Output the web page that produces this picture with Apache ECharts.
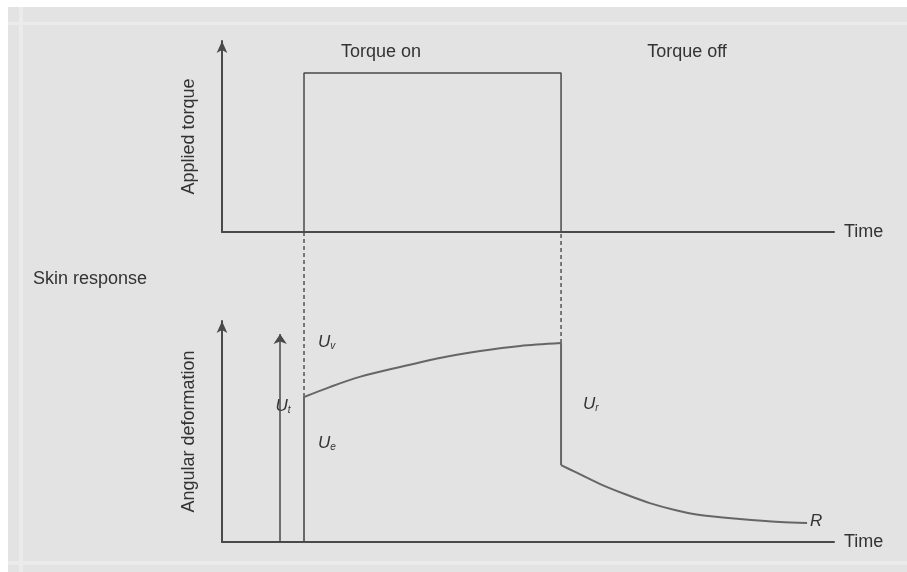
<!DOCTYPE html>
<html>
<head>
<meta charset="utf-8">
<script src="https://cdn.jsdelivr.net/npm/echarts@6/dist/echarts.min.js"></script>
<style>
  html, body { margin: 0; padding: 0; background: #fff; }
  #chart { width: 907px; height: 572px; }
</style>
</head>
<body>
<div id="chart"></div>
<script>
// time axis runs 0..100 in both panels, values 0..100
const tOn = 13.4;
const tOff = 55.4;
const tArrow = 9.5;

// applied torque (top panel)
const torqueTime = [tOn, tOn, tOff, tOff];
const torqueLevel = [0, 83.2, 83.2, 0];

// skin response while torque is on (creep)
const riseTime = [13.4, 17.6, 22.5, 29.1, 35.6, 42.2, 48.7, 55.4];
const riseValue = [65.6, 70.1, 74.7, 79.2, 83.3, 86.4, 88.7, 90.0];

// skin response after torque is removed (recovery)
const decayTime = [55.4, 57.7, 61.8, 65.8, 69.9, 74.0, 78.1, 84.6, 91.2, 95.6];
const decayValue = [34.8, 31.7, 26.2, 21.7, 17.6, 14.5, 12.2, 10.4, 9.0, 8.6];

// U_t arrow height and top of dashed guides (lower panel units)
const arrowTop = 94.1;
const dashTop = 140.3;

const lineColor = '#4a4a4a';
const curveColor = '#666';
const textColor = '#333';
const bgGray = '#e3e3e3';
const font = '"Liberation Sans", Arial, sans-serif';

function zip(xs, ys) {
  let out = [];
  for (let i = 0; i < xs.length; i++) {
    out.push([xs[i], ys[i]]);
  }
  return out;
}

function subLabel(sub) {
  return '{u|U}{s|' + sub + '}';
}

const richU = {
  u: { fontSize: 17, fontStyle: 'italic', fontFamily: font, color: textColor },
  s: { fontSize: 10, fontStyle: 'italic', fontFamily: font, color: textColor, padding: [9, 0, 0, 0] }
};

function xAxisDef(idx) {
  return {
    type: 'value', gridIndex: idx, min: 0, max: 100,
    name: 'Time', nameLocation: 'end', nameGap: 10,
    nameTextStyle: { color: textColor, fontSize: 18, fontFamily: font },
    axisLine: { lineStyle: { color: lineColor, width: 2 } },
    axisTick: { show: false }, axisLabel: { show: false }, splitLine: { show: false }
  };
}

function yAxisDef(idx, name) {
  return {
    type: 'value', gridIndex: idx, min: 0, max: 100,
    name: name, nameLocation: 'middle', nameGap: 24, nameRotate: 90,
    nameTextStyle: { color: textColor, fontSize: 18, fontFamily: font },
    axisLine: {
      show: true, onZero: false,
      symbol: ['none', 'arrow'], symbolSize: [8, 12],
      lineStyle: { color: lineColor, width: 2 }
    },
    axisTick: { show: false }, axisLabel: { show: false }, splitLine: { show: false }
  };
}

function plainLine(data, color, width, extra) {
  return Object.assign({
    type: 'line', xAxisIndex: 1, yAxisIndex: 1,
    data: data, symbol: 'none', silent: true, animation: false,
    lineStyle: { color: color, width: width }
  }, extra || {});
}

function annotation(x, y, text, align, extra) {
  return {
    type: 'text', x: x, y: y, silent: true,
    style: Object.assign({
      text: text, fill: textColor, font: '18px ' + font,
      align: align || 'left', verticalAlign: 'middle'
    }, extra || {})
  };
}

const dashStyle = { color: lineColor, width: 1.4, type: [4, 3] };

const chart = echarts.init(document.getElementById('chart'));

const option = {
  backgroundColor: '#fff',
  animation: false,
  grid: [
    { left: 222, right: 73, top: 41, bottom: 340, outerBoundsMode: 'none' },
    { left: 222, right: 73, top: 321, bottom: 30, outerBoundsMode: 'none' }
  ],
  xAxis: [xAxisDef(0), xAxisDef(1)],
  yAxis: [yAxisDef(0, 'Applied torque'), yAxisDef(1, 'Angular deformation')],
  graphic: [
    { type: 'rect', z: -10, silent: true, shape: { x: 8, y: 7, width: 899, height: 565 }, style: { fill: bgGray } },
    { type: 'rect', z: -9, silent: true, shape: { x: 19, y: 7, width: 4, height: 565 }, style: { fill: '#ebebeb' } },
    { type: 'rect', z: -9, silent: true, shape: { x: 8, y: 22, width: 899, height: 3 }, style: { fill: '#ebebeb' } },
    { type: 'rect', z: -9, silent: true, shape: { x: 8, y: 561, width: 899, height: 4 }, style: { fill: '#ebebeb' } },
    annotation(381, 52, 'Torque on', 'center'),
    annotation(687, 52, 'Torque off', 'center'),
    annotation(33, 279, 'Skin response', 'left'),
    annotation(318, 342, subLabel('v'), 'left', { rich: richU }),
    annotation(283, 406, subLabel('t'), 'center', { rich: richU, backgroundColor: bgGray, padding: [2, 1] }),
    annotation(318, 443, subLabel('e'), 'left', { rich: richU }),
    annotation(583, 404, subLabel('r'), 'left', { rich: richU }),
    annotation(810, 521, 'R', 'left', { font: 'italic 17px ' + font })
  ],
  series: [
    {
      type: 'line', xAxisIndex: 0, yAxisIndex: 0,
      data: zip(torqueTime, torqueLevel), symbol: 'none', silent: true,
      lineStyle: { color: lineColor, width: 1.5 }
    },
    // dashed guides from torque axis down to the response
    plainLine([[tOn, riseValue[0]], [tOn, dashTop]], lineColor, 1.4, { clip: false, lineStyle: dashStyle }),
    plainLine([[tOff, riseValue[riseValue.length - 1]], [tOff, dashTop]], lineColor, 1.4, { clip: false, lineStyle: dashStyle }),
    plainLine([[tOn, 0], [tOn, riseValue[0]]], lineColor, 1.6),
    plainLine(zip(riseTime, riseValue), curveColor, 2, { smooth: 0.3 }),
    plainLine([[tOff, riseValue[riseValue.length - 1]], [tOff, decayValue[0]]], curveColor, 2),
    plainLine(zip(decayTime, decayValue), curveColor, 2, { smooth: 0.3 }),
    {
      type: 'lines', coordinateSystem: 'cartesian2d', xAxisIndex: 1, yAxisIndex: 1,
      silent: true, symbol: ['none', 'arrow'], symbolSize: [7, 10],
      lineStyle: { color: lineColor, width: 1.5, opacity: 1 },
      data: [{ coords: [[tArrow, 0], [tArrow, arrowTop]] }]
    }
  ]
};

chart.setOption(option);
</script>
</body>
</html>
